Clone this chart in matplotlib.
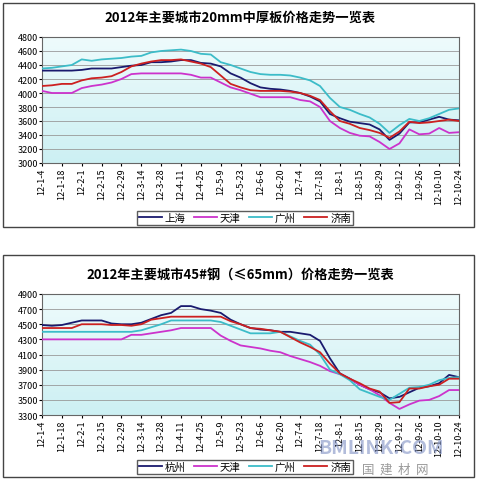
import matplotlib
matplotlib.use("Agg")
import matplotlib.pyplot as plt
import numpy as np
from matplotlib.patches import Rectangle

plt.rcParams['font.family'] = ['Noto Sans CJK SC', 'DejaVu Sans']

tick_labels = ["12-1-4","12-1-18","12-2-1","12-2-15","12-2-29","12-3-14","12-3-28","12-4-11",
               "12-4-25","12-5-9","12-5-23","12-6-6","12-6-20","12-7-4","12-7-18","12-8-1",
               "12-8-15","12-8-29","12-9-12","12-9-26","12-10-10","12-10-24"]

# Chart 1: 20mm plate, weekly values
c1_shanghai = [4320,4320,4320,4320,4330,4350,4350,4350,4370,4390,4400,4440,4440,4450,4470,4470,4430,4420,4380,4280,4220,4140,4080,4060,4050,4030,4000,3950,3880,3700,3640,3590,3570,3550,3480,3330,3420,3580,3580,3620,3660,3620,3610]
c1_tianjin = [4030,4000,4000,4000,4070,4100,4120,4150,4200,4270,4280,4280,4280,4280,4280,4260,4220,4220,4150,4080,4040,3990,3940,3940,3940,3940,3900,3880,3800,3600,3500,3430,3390,3380,3300,3200,3280,3480,3410,3420,3500,3430,3440]
c1_guangzhou = [4350,4360,4380,4400,4480,4460,4480,4490,4500,4520,4530,4580,4600,4610,4620,4600,4560,4550,4440,4400,4350,4300,4270,4260,4260,4250,4220,4180,4100,3930,3800,3760,3700,3650,3560,3430,3540,3630,3600,3640,3700,3760,3780]
c1_jinan = [4100,4110,4130,4130,4180,4210,4220,4240,4300,4380,4420,4450,4470,4470,4480,4450,4420,4370,4250,4130,4080,4040,4030,4030,4030,4020,4000,3960,3900,3740,3600,3560,3500,3470,3430,3360,3450,3590,3570,3580,3600,3620,3600]

# Chart 2: 45# steel
c2_hangzhou = [4490,4480,4490,4520,4550,4550,4550,4510,4500,4500,4520,4570,4620,4650,4740,4740,4700,4680,4650,4560,4500,4450,4430,4420,4400,4400,4380,4360,4280,4050,3850,3780,3700,3640,3600,3520,3540,3600,3660,3680,3720,3830,3800]
c2_tianjin = [4300,4300,4300,4300,4300,4300,4300,4300,4300,4360,4360,4380,4400,4420,4450,4450,4450,4450,4350,4280,4220,4200,4180,4150,4130,4080,4040,4000,3950,3880,3840,3780,3700,3640,3560,3460,3380,3440,3490,3500,3550,3630,3630]
c2_guangzhou = [4400,4400,4400,4400,4400,4400,4400,4400,4400,4400,4420,4460,4500,4550,4550,4550,4550,4550,4530,4480,4430,4380,4380,4380,4400,4340,4280,4230,4100,3900,3840,3760,3640,3590,3540,3500,3580,3660,3670,3700,3760,3790,3800]
c2_jinan = [4450,4450,4450,4450,4500,4500,4500,4490,4490,4480,4500,4560,4580,4600,4600,4600,4600,4600,4600,4540,4500,4450,4440,4420,4400,4330,4260,4200,4130,3980,3850,3780,3720,3650,3610,3460,3470,3650,3650,3680,3700,3780,3780]

cols = ['#1a1a6e','#cc33cc','#3cbcc8','#cc2020']

fig = plt.figure(figsize=(4.8,4.81), dpi=100)

def panel(top_px, bot_px, box, title, ylim, yticks, series, names, leg_y):
    x0,y0,x1,y1 = box
    fig.patches.append(Rectangle((x0/480, 1-y1/481), (x1-x0)/480, (y1-y0)/481,
                                 transform=fig.transFigure, fill=False, ec='#444444', lw=1))
    ax = fig.add_axes([42/480, 1-bot_px/481, 417/480, (bot_px-top_px)/481])
    grad = np.linspace(0,1,100).reshape(-1,1)
    ax.imshow(grad, extent=[0,42,ylim[0],ylim[1]], aspect='auto', origin='lower',
              cmap=matplotlib.colors.LinearSegmentedColormap.from_list('g',['#cdf0f3','#eefbfc']), zorder=0)
    x = np.arange(len(series[0]))
    for s,c,n in zip(series,cols,names):
        ax.plot(x, s, color=c, lw=1.3, label=n, zorder=3)
    ax.set_xlim(0,42); ax.set_ylim(*ylim)
    ax.set_yticks(yticks)
    ax.set_yticklabels([str(v) for v in yticks], fontsize=6.5)
    ax.set_xticks(np.arange(0,43,2))
    ax.set_xticklabels(tick_labels, rotation=90, fontsize=6.5)
    ax.grid(axis='y', color='#999999', lw=0.6)
    ax.tick_params(length=2, pad=1)
    for sp in ax.spines.values(): sp.set_color('#666666')
    fig.text(0.5, 1-(top_px-20)/481, title, ha='center', va='center', fontsize=9.5, fontweight='bold')
    fig.legend(*ax.get_legend_handles_labels(), loc='center', bbox_to_anchor=(0.51, 1-leg_y/481),
               ncol=4, fontsize=7.5, frameon=True, fancybox=False, edgecolor='#333333',
               handlelength=2.2, borderpad=0.2, columnspacing=0.8, handletextpad=0.3)
    return ax

panel(38,164,(3,4,474,228),"2012年主要城市20mm中厚板价格走势一览表",(3000,4800),
      list(range(3000,4801,200)),[c1_shanghai,c1_tianjin,c1_guangzhou,c1_jinan],
      ["上海","天津","广州","济南"],219)
panel(295,416,(3,256,474,478),"2012年主要城市45#钢（≤65mm）价格走势一览表",(3300,4900),
      list(range(3300,4901,200)),[c2_hangzhou,c2_tianjin,c2_guangzhou,c2_jinan],
      ["杭州","天津","广州","济南"],468)

fig.text(318/480, 1-448/481, "BMLINK.COM", fontsize=14, fontweight='bold', color='#7f90c4', alpha=0.6, va='center', zorder=0)
fig.text(362/480, 1-470/481, "国  建  材  网", fontsize=9, color='#999999', va='center', zorder=0)

fig.savefig("out.png", dpi=100, facecolor='white')
